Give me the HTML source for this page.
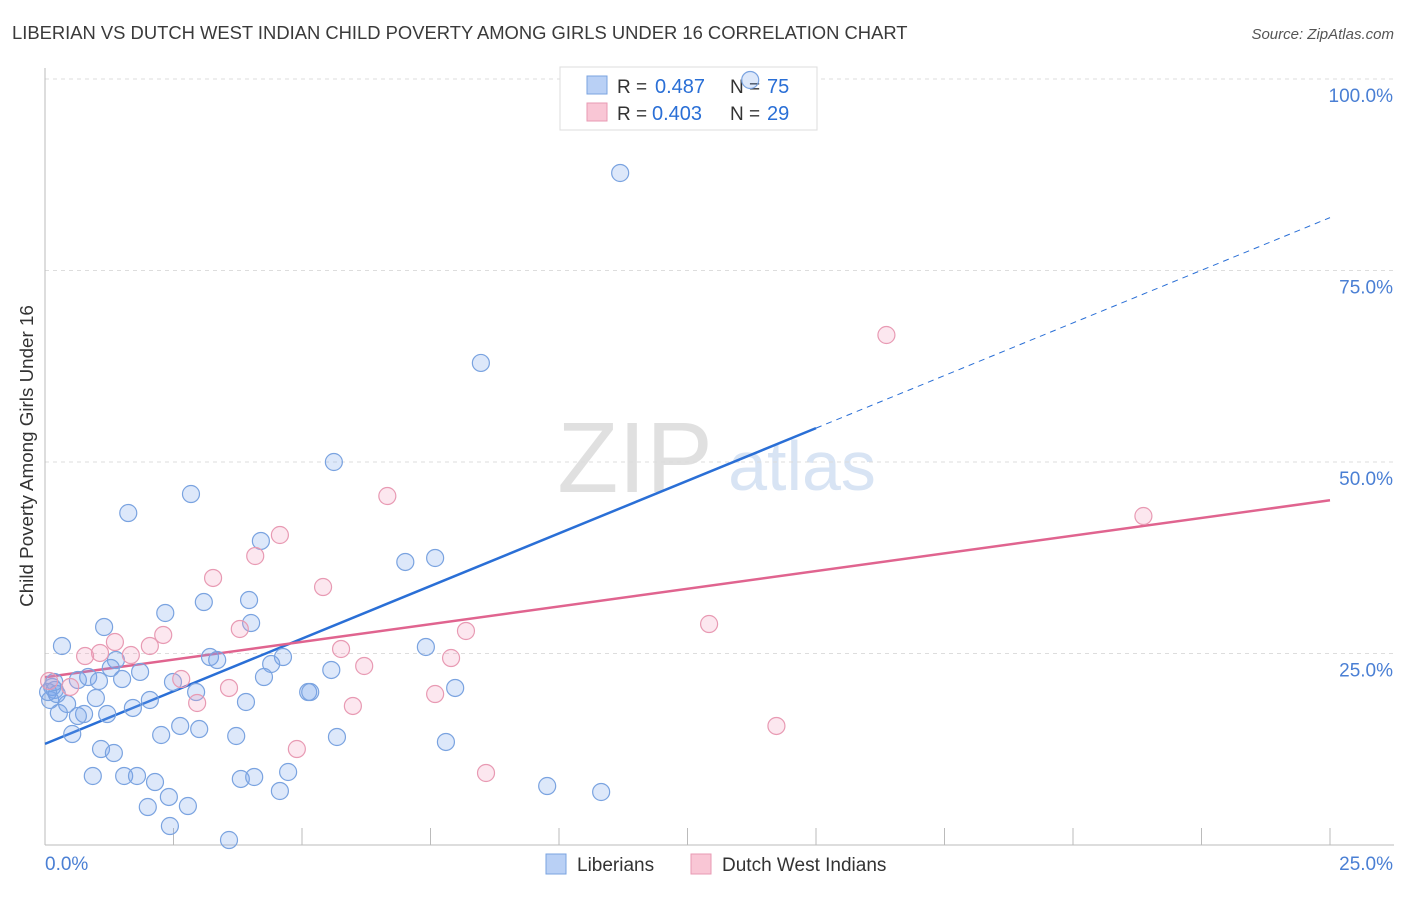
<!DOCTYPE html>
<html><head><meta charset="utf-8"><style>
body{margin:0;background:#fff;font-family:"Liberation Sans",sans-serif}
svg text{font-family:"Liberation Sans",sans-serif}
</style></head><body>
<svg id="chart" width="1406" height="892" viewBox="0 0 1406 892" xmlns="http://www.w3.org/2000/svg">
<text x="12" y="39" font-size="18.4" fill="#3a3a3a">LIBERIAN VS DUTCH WEST INDIAN CHILD POVERTY AMONG GIRLS UNDER 16 CORRELATION CHART</text>
<text x="1394" y="39" font-size="15" fill="#555" text-anchor="end" font-style="italic">Source: ZipAtlas.com</text>
<g>
<text x="635" y="492" font-size="100" fill="#e0e0e0" text-anchor="middle" font-family="Liberation Serif">ZIP</text>
<text x="802" y="490" font-size="70" fill="#d8e4f4" text-anchor="middle">atlas</text>
</g>
<g id="grid"></g><g id="axes"></g>
<g>
<rect x="560" y="67" width="257" height="63" fill="#fff" stroke="#ddd"/>
<rect x="587" y="76" width="20" height="18" fill="#b9d0f5" stroke="#7aa3e0"/>
<rect x="587" y="103" width="20" height="18" fill="#f9c6d5" stroke="#e89ab3"/>
<text x="617" y="93" font-size="19" fill="#333">R =</text><text x="655" y="93" font-size="20" fill="#2a6fd6">0.487</text>
<text x="730" y="93" font-size="19" fill="#333">N =</text><text x="767" y="93" font-size="20" fill="#2a6fd6">75</text>
<text x="617" y="120" font-size="19" fill="#333">R =</text><text x="652" y="120" font-size="20" fill="#2a6fd6">0.403</text>
<text x="730" y="120" font-size="19" fill="#333">N =</text><text x="767" y="120" font-size="20" fill="#2a6fd6">29</text>
</g>
<g id="lines"></g><g id="pts"></g>
<text transform="translate(33,456) rotate(-90)" font-size="18.8" fill="#333" text-anchor="middle">Child Poverty Among Girls Under 16</text>
<g>
<rect x="546" y="854" width="20" height="20" fill="#b9d0f5" stroke="#7aa3e0"/>
<text x="577" y="871" font-size="19" fill="#333">Liberians</text>
<rect x="691" y="854" width="20" height="20" fill="#f9c6d5" stroke="#e89ab3"/>
<text x="722" y="871" font-size="19" fill="#333">Dutch West Indians</text>
</g>
</svg>
<script>
const blueX=[11.19,8.48,5.62,2.84,1.62,7.01,7.59,4.20,2.34,3.09,3.97,4.01,1.15,0.33,7.41,4.63,3.21,3.35,1.38,1.85,1.28,4.40,5.57,4.26,1.50,2.49,0.64,0.84,1.05,0.14,0.19,7.98,2.94,5.12,5.16,0.99,2.04,3.91,0.43,1.71,0.27,1.21,0.76,0.64,2.63,3.00,0.53,2.26,3.72,5.68,7.80,1.09,1.34,4.73,0.93,1.54,1.79,3.81,4.07,2.14,9.77,4.57,10.82,2.41,2.00,2.78,2.43,3.58,0.10,0.06,0.23,13.72,0.18];
const blueY=[87.73,62.93,50.0,45.82,43.34,36.95,37.47,39.69,30.29,31.72,31.98,28.98,28.46,25.98,25.85,24.54,24.54,24.15,24.15,22.59,23.11,23.63,22.85,21.93,21.67,21.28,21.54,21.93,21.41,20.63,20.24,20.50,19.97,19.97,19.97,19.19,18.93,18.67,18.41,17.89,17.23,17.10,17.10,16.84,15.54,15.14,14.49,14.36,14.23,14.10,13.45,12.53,12.01,9.53,9.01,9.01,9.01,8.62,8.88,8.22,7.70,7.05,6.92,6.27,4.96,5.09,2.48,0.65,18.93,19.97,19.71,99.87,21.28];
const pinkX=[16.37,6.66,21.37,4.57,4.09,3.27,5.41,8.19,12.92,2.30,3.79,1.36,2.04,5.76,1.07,0.78,1.67,7.90,6.21,2.65,0.08,0.49,3.58,7.59,2.96,5.99,4.90,14.23,8.58];
const pinkY=[66.58,45.56,42.95,40.47,37.73,34.86,33.68,27.94,28.85,27.42,28.20,26.50,25.98,25.59,25.07,24.67,24.80,24.41,23.37,21.67,21.41,20.63,20.50,19.71,18.54,18.15,12.53,15.54,9.40];
const blueTrend=[13.2,81.9]; const blueSolidEnd=15;
const pinkTrend=[21.9,45.0];
const yTicks=[25,50,75,100]; const yTickLabels=["25.0%","50.0%","75.0%","100.0%"];
const xTicks=[0,2.5,5,7.5,10,12.5,15,17.5,20,22.5,25];
const NS="http://www.w3.org/2000/svg";
const sx=v=>45+v/25*1285, sy=v=>845-v/100*766;
function mk(p,t,a){const e=document.createElementNS(NS,t);for(const k in a)e.setAttribute(k,a[k]);p.appendChild(e);return e;}
const grid=document.getElementById('grid'),axes=document.getElementById('axes'),lines=document.getElementById('lines'),pts=document.getElementById('pts');
yTicks.forEach((v,i)=>{
 const g=mk(grid,'line',{x1:45,x2:1394,y1:sy(v),y2:sy(v),stroke:'#ddd','stroke-dasharray':'4,4'});
 
 
 const t=mk(grid,'text',{x:1393,y:sy(v)+23,'font-size':19,fill:'#4a7fd4','text-anchor':'end'});t.textContent=yTickLabels[i];
 
 
});
const ax=mk(axes,'line',{x1:45,x2:1394,y1:845,y2:845,stroke:'#bbb'});


const ay=mk(axes,'line',{x1:45,x2:45,y1:68,y2:845,stroke:'#bbb'});


xTicks.forEach(v=>{const l=mk(axes,'line',{x1:sx(v),x2:sx(v),y1:828,y2:845,stroke:'#bbb'});
 
 });
[["0.0%",45,'start'],["25.0%",1393,'end']].forEach(a=>{const t=mk(axes,'text',{x:a[1],y:870,'font-size':19,fill:'#4a7fd4','text-anchor':a[2]});t.textContent=a[0];
 
 });
function ty(tr,x){return tr[0]+(tr[1]-tr[0])*x/25;}
function dot(x,y,f,s,n){const c=mk(pts,'circle',{cx:sx(x),cy:sy(y),r:8.5,fill:f,stroke:s,'stroke-width':1.2});
 
 }
blueX.forEach((x,i)=>dot(x,blueY[i],'rgba(120,165,235,0.25)','#7aa3e0','liberian-point'));
pinkX.forEach((x,i)=>dot(x,pinkY[i],'rgba(245,160,190,0.25)','#e89ab3','dutch-west-indian-point'));
const b1=mk(lines,'line',{x1:sx(0),y1:sy(ty(blueTrend,0)),x2:sx(blueSolidEnd),y2:sy(ty(blueTrend,blueSolidEnd)),stroke:'#2a6fd6','stroke-width':2.5});


const b2=mk(lines,'line',{x1:sx(blueSolidEnd),y1:sy(ty(blueTrend,blueSolidEnd)),x2:sx(25),y2:sy(ty(blueTrend,25)),stroke:'#2a6fd6','stroke-width':1,'stroke-dasharray':'6,5'});


const p1=mk(lines,'line',{x1:sx(0),y1:sy(ty(pinkTrend,0)),x2:sx(25),y2:sy(ty(pinkTrend,25)),stroke:'#e0648f','stroke-width':2.5});


</script>
</body></html>
